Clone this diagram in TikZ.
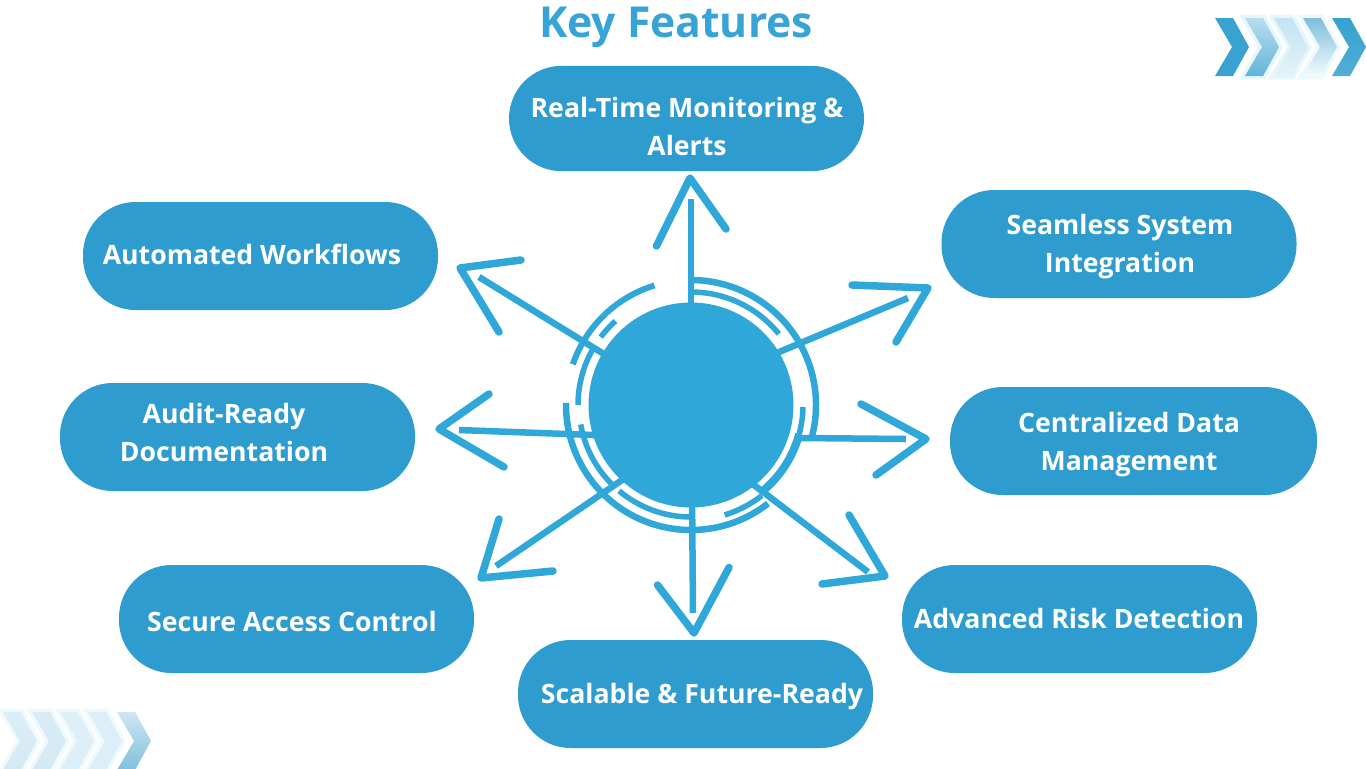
\documentclass[tikz,border=0pt]{standalone}
\usepackage{fontspec}
\setmainfont{Open Sans}
\definecolor{pillblue}{HTML}{2E9CCE}
\definecolor{discblue}{HTML}{30A7D9}
\definecolor{titleblue}{HTML}{38A3D6}
\tikzset{
  pillbox/.style={draw=none,fill=pillblue,rounded corners=39.5pt,minimum width=#1*0.75pt,inner sep=0pt},
  pilltext/.style={text=white,font=\fontsize{20pt}{28.5pt}\selectfont\bfseries,align=center,inner sep=0pt},
  titletext/.style={text=titleblue,font=\fontsize{32pt}{36pt}\selectfont\bfseries,inner sep=0pt},
  ringarc/.style={draw=discblue,line width=#1*0.75pt,line cap=butt},
  shaft/.style={draw=discblue,line width=6.5*0.75pt,line cap=butt},
  barbs/.style={draw=discblue,line width=7.5*0.75pt,line cap=round,line join=round},
}
\newcommand{\mypill}[8][81pt]{%
  \node[pillbox=#5,minimum height=#1] (#2) at (#3,-#4) {};
  \node[pilltext] (#2t) at (#6,-#7) {#8};
}
\newcommand{\myarc}[4]{% width radius start end
  \draw[ringarc=#1] ([shift={(#3:#2)}]hub) arc[start angle=#3,end angle=#4,radius=#2];
}
\newcommand{\myarrow}[9]{% name sx sy ex ey ax ay bx by
  \coordinate (#1s) at (#2,-#3);
  \coordinate (#1e) at (#4,-#5);
  \coordinate (#1a) at (#6,-#7);
  \coordinate (#1b) at (#8,-#9);
  \draw[shaft] (#1s) -- (#1e);
  \draw[barbs] (#1b) -- (#1a)
}
\newcommand{\mychevhalo}[4]{% x0 ytop ybottom halo
  \definecolor{chalo}{HTML}{#4}
  \path[draw=chalo,fill=chalo,line width=5pt,line join=miter]
    (#1,-#2) -- (#1+18,-#2) -- (#1+34,-#2/2-#3/2) -- (#1+18,-#3) -- (#1,-#3) -- (#1+17,-#2/2-#3/2) -- cycle;
}
\newcommand{\mychev}[5]{% x0 ytop ybottom topcol botcol
  \definecolor{ctop}{HTML}{#4}\definecolor{cbot}{HTML}{#5}
  \path[top color=ctop,bottom color=cbot]
    (#1,-#2) -- (#1+18,-#2) -- (#1+34,-#2/2-#3/2) -- (#1+18,-#3) -- (#1,-#3) -- (#1+17,-#2/2-#3/2) -- cycle;
}
\begin{document}
\begin{tikzpicture}[x=0.75pt,y=0.75pt]
\useasboundingbox[fill=white] (0,-768) rectangle (1366,0);
% chevrons top right
\mychevhalo{1245}{18}{76}{E6F7FC}
\mychevhalo{1274}{18}{76}{E6F7FC}
\mychevhalo{1303}{18}{76}{EEF9FD}
\mychev{1215}{18}{76}{3AA2D0}{3AA2D0}
\mychev{1245}{18}{76}{B8DDEE}{62B5D8}
\mychev{1274}{18}{76}{C4E3F1}{E2F3FA}
\mychev{1303}{18}{76}{7FBEDB}{F4FBFD}
\mychev{1332}{18}{76}{36A2D0}{50AED6}
% chevrons bottom left
\mychevhalo{3}{712}{770}{F0FAFD}
\mychevhalo{32}{712}{770}{F0FAFD}
\mychevhalo{60}{712}{770}{F0FAFD}
\mychevhalo{88}{712}{770}{F0FAFD}
\mychev{3}{712}{770}{DCEEF7}{D4E9F4}
\mychev{32}{712}{770}{D8ECF6}{D4E9F4}
\mychev{60}{712}{770}{DEEFF8}{DCEEF7}
\mychev{88}{712}{770}{DCEEF7}{DCEEF7}
\mychev{117}{712}{770}{CFE7F2}{7FC0DC}
% title
\node[titletext] (title) at (676,-27) {Key Features};
% pills
\mypill[79pt]{realtime}{686.5}{118.5}{355}{687}{126}{Real-Time Monitoring \&\\Alerts}
\mypill{auto}{260.5}{256}{355}{252}{254}{Automated Workflows}
\mypill{seamless}{1119}{244}{355}{1120}{247}{Seamless System\\Integration}
\mypill{audit}{237.5}{437}{355}{224}{432}{Audit-Ready\\Documentation}
\mypill{central}{1133.5}{441}{367}{1129}{445}{Centralized Data\\Management}
\mypill{secure}{296.5}{619}{355}{292}{621}{Secure Access Control}
\mypill{advanced}{1079.5}{619}{355}{1079}{618}{Advanced Risk Detection}
\mypill{scalable}{695.5}{694}{355}{702}{697}{Scalable \& Future-Ready}
% hub
\coordinate (hub) at (691,-405);
% rings
\myarc{6.5}{125}{90}{-15}
\myarc{6.5}{125}{-52}{-181}
\myarc{6}{125}{107}{161}
\myarc{5.5}{113}{89}{39}
\myarc{5.5}{112}{-1}{-15}
\myarc{8}{112}{-15}{-50}
\myarc{5.5}{115}{-52}{-73}
\myarc{5.5}{112}{-91}{-130}
\myarc{5.5}{112}{-134}{-170}
\myarc{5.5}{113}{180}{151}
\myarc{5.5}{113}{143}{132}
% arrows
\myarrow{n}{691}{320}{691}{199}{690}{178}{656.5}{246}-- (726,-229);
\myarrow{ne}{760}{360}{908}{298}{928}{288}{852}{285}-- (896,-342);
\myarrow{e}{800}{438}{906}{439}{926}{439}{861}{404}-- (876,-475);
\myarrow{se}{750}{482}{868}{572}{885}{576}{849}{515}-- (822,-584);
\myarrow{s}{692}{490}{693}{613}{694}{633}{657.5}{585}-- (729,-567.5);
\myarrow{sw}{625}{478}{496}{566}{481}{578}{499}{519}-- (553,-571);
\myarrow{w}{620}{436}{459}{430}{439}{429}{489}{394}-- (504,-467);
\myarrow{nw}{620}{364}{479}{277}{460}{268}{521}{260}-- (499,-332);
% disc
\node[circle,fill=discblue,draw=none,minimum size=153.75pt,inner sep=0pt] (disc) at (hub) {};
\end{tikzpicture}
\end{document}
